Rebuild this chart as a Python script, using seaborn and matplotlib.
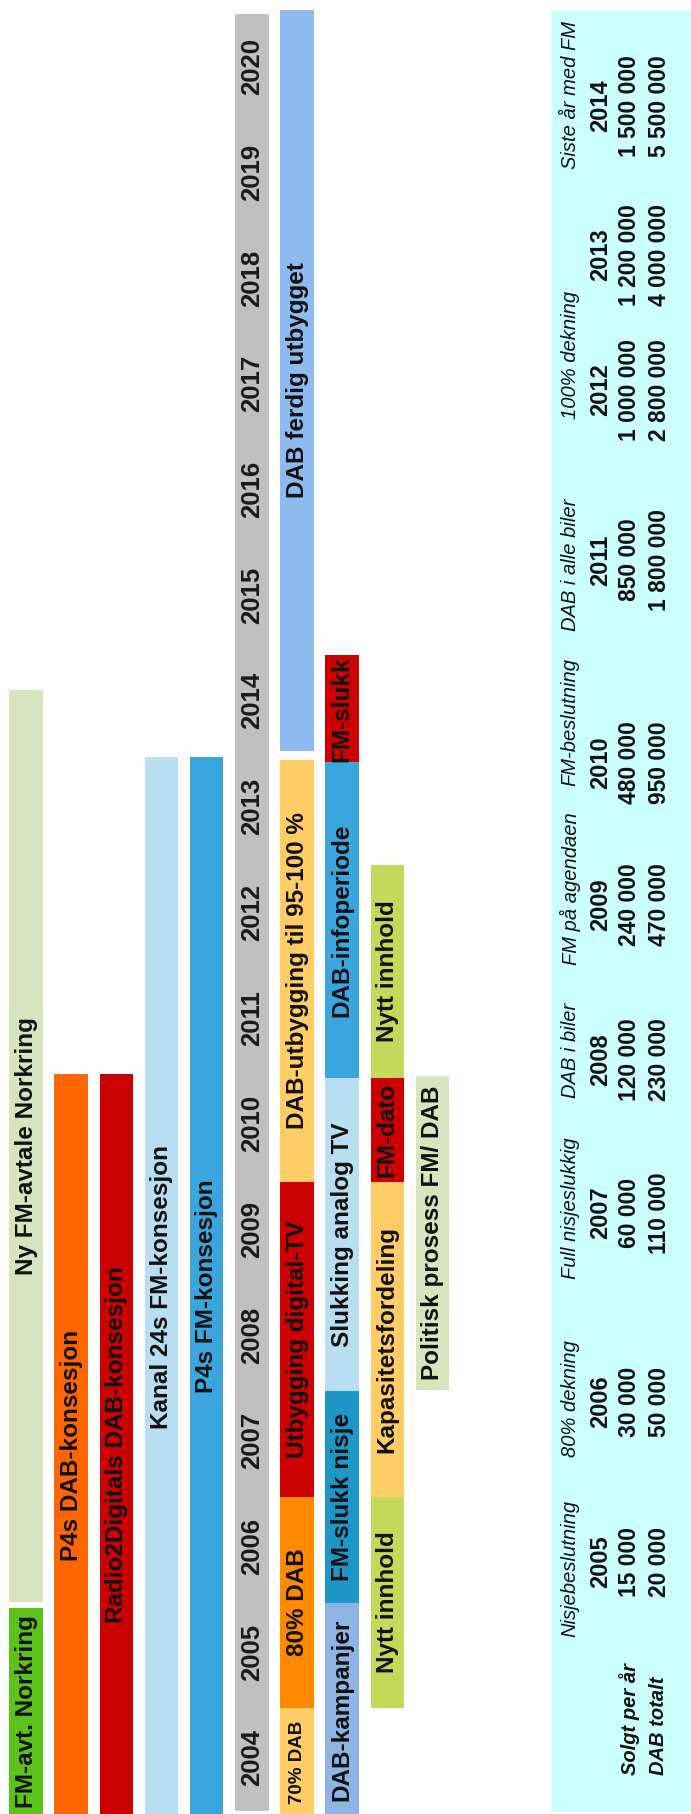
import matplotlib
matplotlib.use("Agg")
import matplotlib.pyplot as plt
import seaborn as sns

sns.set_theme(style="white")
plt.rcParams["font.family"] = ["Liberation Sans", "DejaVu Sans"]

# ---------------- data ----------------
years = list(range(2004, 2021))

task_row = [0, 0, 1, 2, 3, 4,
            6, 6, 6, 6, 6,
            7, 7, 7, 7, 7,
            8, 8, 8, 8,
            9]
task_label = ["FM-avt. Norkring", "Ny FM-avtale Norkring", "P4s DAB-konsesjon",
              "Radio2Digitals DAB-konsesjon", "Kanal 24s FM-konsesjon", "P4s FM-konsesjon",
              "70% DAB", "80% DAB", "Utbygging digital-TV", "DAB-utbygging til 95-100 %",
              "DAB ferdig utbygget",
              "DAB-kampanjer", "FM-slukk nisje", "Slukking analog TV", "DAB-infoperiode", "FM-slukk",
              "Nytt innhold", "Kapasitetsfordeling", "FM-dato", "Nytt innhold",
              "Politisk prosess FM/ DAB"]
task_start = [2003.45, 2005.48, 2003.45, 2003.45, 2003.45, 2003.45,
              2003.45, 2004.47, 2006.47, 2009.45, 2013.53,
              2003.45, 2005.47, 2007.47, 2010.43, 2013.42,
              2004.47, 2006.47, 2009.45, 2010.43,
              2007.48]
task_end = [2005.42, 2014.10, 2010.47, 2010.47, 2013.47, 2013.47,
            2004.47, 2006.47, 2009.45, 2013.44, 2020.54,
            2005.47, 2007.47, 2010.43, 2013.42, 2014.43,
            2006.47, 2009.45, 2010.43, 2012.45,
            2010.45]
year_row = 5
year_band = (2003.5, 2020.5)

tbl_years = [2005, 2006, 2007, 2008, 2009, 2010, 2011, 2012, 2013, 2014]
tbl_headers = ["Nisjebeslutning", "80% dekning", "Full nisjeslukkig", "DAB i biler",
               "FM på agendaen", "FM-beslutning", "DAB i alle biler", "100% dekning",
               "", "Siste år med FM"]
sold_per_year = [15000, 30000, 60000, 120000, 240000, 480000, 850000,
                 1000000, 1200000, 1500000]
dab_total = [20000, 50000, 110000, 230000, 470000, 950000, 1800000,
             2800000, 4000000, 5500000]
row_names = ["Solgt per år", "DAB totalt"]

# ---------------- style / layout ----------------
task_color = ["#5CC21A", "#D7E4BD", "#FF6600", "#CC0000", "#B9DDF1", "#3AA6DD",
              "#FFCC66", "#FF8A00", "#CC0000", "#FFCC66", "#8DBBF0",
              "#8DB4E3", "#1F96C8", "#B9DDF1", "#3AA6DD", "#CC0000",
              "#C4D95A", "#FFCC66", "#CC0000", "#C4D95A",
              "#D7E4BD"]
task_fs = [17.5] * len(task_label)
task_fs[6] = 13.5
year_color = "#C0C0C0"
table_bg = "#CCFFFF"

W, H = 691, 1814
fig = plt.figure(figsize=(W / 100, H / 100), dpi=100)
fig.patch.set_facecolor("white")

pitch = 45.17
ax = fig.add_axes([(26 - pitch / 2) / W, 0, 10 * pitch / W, 1])
ax.set_xlim(-0.5, 9.5)
ax.set_ylim(2003.47, 2020.63)
ax.axis("off")
bw = 0.74

# year band
ax.bar(year_row, year_band[1] - year_band[0], bottom=year_band[0], width=bw,
       color=year_color, linewidth=0)
for y in years:
    ax.text(year_row, y, str(y), rotation=90, rotation_mode="anchor",
            ha="center", va="center", fontsize=18.5, fontweight="bold", color="#1a1a1a")

for r, lab, s, e, c, fs in zip(task_row, task_label, task_start, task_end, task_color, task_fs):
    ax.bar(r, e - s, bottom=s, width=bw, color=c, linewidth=0)
    ax.text(r, (s + e) / 2, lab, rotation=90, rotation_mode="anchor",
            ha="center", va="center", fontsize=fs, fontweight="bold", color="#111111")

# ---------------- table ----------------
tx0, ty0, ty1 = 551, 10, 1812
tax = fig.add_axes([tx0 / W, (H - ty1) / H, (W - tx0) / W, (ty1 - ty0) / H])
tax.set_facecolor(table_bg)
tax.set_xlim(tx0, W)
tax.set_ylim(ty1, ty0)
tax.set_xticks([])
tax.set_yticks([])
for sp in tax.spines.values():
    sp.set_visible(False)

col_center = [1562, 1402, 1213, 1060, 905, 763, 560, 390, 255, 106]
head_center = [1568, 1399, 1208, 1050, 889, 722, 565, 355, 255, 95]
row_x = {"head": 570, "year": 601, "sold": 630, "total": 659}

def fmt(v):
    return f"{v:,}".replace(",", " ")

for i in range(len(tbl_years)):
    if tbl_headers[i]:
        tax.text(row_x["head"], head_center[i], tbl_headers[i], rotation=90,
                 rotation_mode="anchor", ha="center", va="center",
                 fontsize=14.5, fontstyle="italic", color="#111111")
    tax.text(row_x["year"], col_center[i], str(tbl_years[i]), rotation=90,
             rotation_mode="anchor", ha="center", va="center",
             fontsize=17, fontweight="bold", color="#111111")
    tax.text(row_x["sold"], col_center[i], fmt(sold_per_year[i]), rotation=90,
             rotation_mode="anchor", ha="center", va="center",
             fontsize=16.5, fontweight="bold", color="#111111")
    tax.text(row_x["total"], col_center[i], fmt(dab_total[i]), rotation=90,
             rotation_mode="anchor", ha="center", va="center",
             fontsize=16.5, fontweight="bold", color="#111111")

tax.text(row_x["sold"], 1775, row_names[0], rotation=90, rotation_mode="anchor",
         ha="left", va="center", fontsize=14.5, fontweight="bold", fontstyle="italic",
         color="#111111")
tax.text(row_x["total"], 1775, row_names[1], rotation=90, rotation_mode="anchor",
         ha="left", va="center", fontsize=14.5, fontweight="bold", fontstyle="italic",
         color="#111111")

fig.savefig("out.png", dpi=100, facecolor="white")
